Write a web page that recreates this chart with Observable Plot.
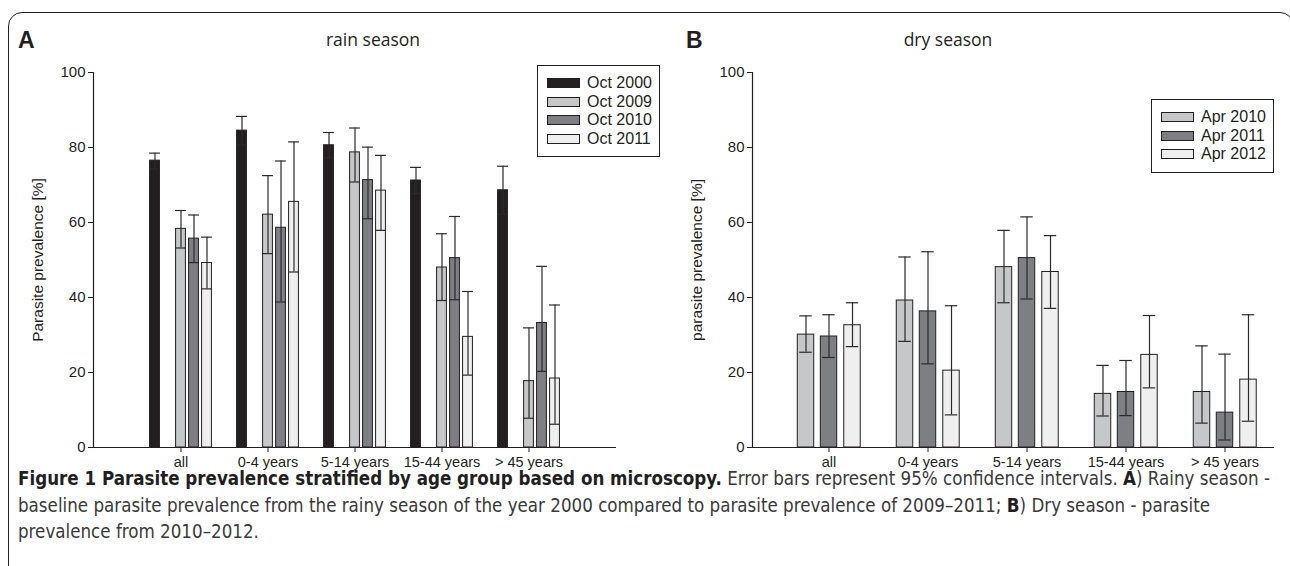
<!DOCTYPE html>
<html><head><meta charset="utf-8">
<script src="https://cdn.jsdelivr.net/npm/d3@7"></script>
<script src="https://cdn.jsdelivr.net/npm/@observablehq/plot@0.6"></script>
<style>
body{margin:0;background:#fff;}
#wrap{position:relative;width:1290px;height:566px;overflow:hidden;font-family:"Liberation Sans",Arial,sans-serif;color:#231f20;}
.abs{position:absolute;}
.border{left:8px;top:12px;width:1286px;height:640px;border:1.5px solid #231f20;border-radius:14px;box-sizing:border-box;}
.letter{font-weight:bold;font-size:23px;}
.title{font-family:"Open Sans",sans-serif;font-size:17.5px;transform:translateX(-50%);white-space:nowrap;}
.legend{border:1px solid #231f20;background:#fff;box-sizing:border-box;padding:8px 0 0 9px;}
.row{display:flex;align-items:center;height:18.5px;font-size:16px;white-space:nowrap;}
.sw{width:33px;height:10px;border:1px solid #231f20;margin-right:7px;box-sizing:border-box;}
.caption{left:18px;top:466px;font-family:"DejaVu Sans Condensed","Liberation Sans Narrow",sans-serif;font-size:18.6px;line-height:26.5px;white-space:nowrap;color:#3a3a3a;}
.caption b{color:#231f20;}
</style></head><body><div id="wrap"></div>
<script>
// ---------- data ----------
const groups = ["all", "0-4 years", "5-14 years", "15-44 years", "> 45 years"];
const yTicks = [0, 20, 40, 60, 80, 100];

// Panel A – rain season
const seriesA = ["Oct 2000", "Oct 2009", "Oct 2010", "Oct 2011"];
const oct2000 = [76.5, 84.5, 80.6, 71.2, 68.6];
const oct2000Lo = [74.3, 80.7, 77.2, 67.7, 62.2];
const oct2000Hi = [78.5, 88.3, 84.0, 74.7, 75.0];
const oct2009 = [58.3, 62.1, 78.7, 48.0, 17.7];
const oct2009Lo = [53.2, 51.7, 70.8, 39.2, 7.8];
const oct2009Hi = [63.2, 72.5, 85.2, 57.0, 31.9];
const oct2010 = [55.7, 58.6, 71.3, 50.5, 33.2];
const oct2010Lo = [49.3, 38.8, 61.0, 39.4, 20.3];
const oct2010Hi = [62.0, 76.4, 80.1, 61.6, 48.3];
const oct2011 = [49.2, 65.5, 68.5, 29.5, 18.4];
const oct2011Lo = [42.3, 46.8, 57.9, 19.3, 6.2];
const oct2011Hi = [56.1, 81.5, 77.9, 41.6, 38.0];

// Panel B – dry season
const seriesB = ["Apr 2010", "Apr 2011", "Apr 2012"];
const apr2010 = [30.1, 39.2, 48.1, 14.3, 14.8];
const apr2010Lo = [25.4, 28.3, 38.6, 8.4, 6.5];
const apr2010Hi = [35.1, 50.8, 57.9, 21.9, 27.1];
const apr2011 = [29.6, 36.3, 50.5, 14.8, 9.3];
const apr2011Lo = [24.0, 22.3, 39.6, 8.5, 2.0];
const apr2011Hi = [35.4, 52.2, 61.5, 23.2, 24.9];
const apr2012 = [32.6, 20.5, 46.8, 24.7, 18.1];
const apr2012Lo = [26.9, 8.7, 37.1, 15.9, 7.0];
const apr2012Hi = [38.6, 37.8, 56.5, 35.2, 35.4];

// ---------- build tables ----------
function table(vals, lo, hi) {
  return groups.map((g, i) => ({g, v: vals[i], lo: lo[i], hi: hi[i]}));
}
const dataA = [table(oct2000, oct2000Lo, oct2000Hi), table(oct2009, oct2009Lo, oct2009Hi),
               table(oct2010, oct2010Lo, oct2010Hi), table(oct2011, oct2011Lo, oct2011Hi)];
const dataB = [table(apr2010, apr2010Lo, apr2010Hi), table(apr2011, apr2011Lo, apr2011Hi),
               table(apr2012, apr2012Lo, apr2012Hi)];

// ---------- style ----------
const INK = "#231f20";
const fillsA = ["#231f20", "#c6c7c9", "#7e7f83", "#efefef"];
const fillsB = ["#c6c7c9", "#7e7f83", "#efefef"];

function panel({data, fills, offsets, barW, capW, left, width, marginLeft, marginRight, paddingOuter, align, label}) {
  const height = 480, marginTop = 72, marginBottom = 33;
  const bw = (width - marginLeft - marginRight) / (groups.length + 2 * paddingOuter);
  const marks = [];
  data.forEach((d, k) => {
    const o = offsets[k];
    marks.push(Plot.barY(d, {x: "g", y: "v", fill: fills[k], stroke: INK, strokeWidth: 1,
      insetLeft: bw / 2 + o - barW / 2, insetRight: bw / 2 - o - barW / 2}));
    marks.push(Plot.ruleX(d, {x: "g", y1: "lo", y2: "hi", dx: o, stroke: "#2a2a2a", strokeWidth: 1.2}));
    for (const key of ["lo", "hi"]) {
      marks.push(Plot.tickY(d, {x: "g", y: key, stroke: "#2a2a2a", strokeWidth: 1.2,
        insetLeft: bw / 2 + o - capW / 2, insetRight: bw / 2 - o - capW / 2}));
    }
  });
  const svg = Plot.plot({
    width, height, marginLeft, marginRight, marginTop, marginBottom,
    style: {fontFamily: "Liberation Sans, Arial, sans-serif", fontSize: "14.5px", color: INK, background: "transparent", overflow: "visible"},
    x: {type: "band", domain: groups, paddingInner: 0, paddingOuter, align},
    y: {domain: [0, 100]},
    marks: [
      ...marks,
      Plot.ruleY([0], {stroke: INK, strokeWidth: 1.2}),
      Plot.frame({anchor: "left", stroke: INK, strokeWidth: 1.2}),
      Plot.axisY({ticks: yTicks, tickSize: 5, tickPadding: 3, label: null, fontSize: 15}),
      Plot.axisX({tickSize: 5, tickPadding: 4, label: null, fontSize: 14.5}),
      Plot.text([label], {text: d => d, frameAnchor: "left", textAnchor: "middle", lineAnchor: "middle", rotate: -90, dx: -55, fontSize: 15.5, fill: INK})
    ]
  });
  svg.style.position = "absolute";
  svg.style.left = left + "px";
  svg.style.top = "0px";
  return svg;
}

const wrap = document.getElementById("wrap");
const border = document.createElement("div");
border.className = "abs border";
wrap.appendChild(border);

wrap.appendChild(panel({data: dataA, fills: fillsA, offsets: [-26, 0, 13, 26], barW: 10, capW: 11,
  left: 0, width: 680, marginLeft: 93, marginRight: 64, paddingOuter: 0.5, align: 0.5, label: "Parasite prevalence [%]"}));
wrap.appendChild(panel({data: dataB, fills: fillsB, offsets: [-23, 0, 23.5], barW: 17, capW: 13,
  left: 660, width: 630, marginLeft: 92, marginRight: 16, paddingOuter: 0.122, align: 1, label: "parasite prevalence [%]"}));

function html(cls, style, inner) {
  const el = document.createElement("div");
  el.className = "abs " + cls;
  Object.assign(el.style, style);
  el.innerHTML = inner;
  wrap.appendChild(el);
  return el;
}
html("letter", {left: "18px", top: "27px"}, "A");
html("letter", {left: "686px", top: "27px"}, "B");
html("title", {left: "373px", top: "27px"}, "rain season");
html("title", {left: "948px", top: "27px"}, "dry season");

function legend(names, fills, style) {
  const rows = names.map((n, i) => `<div class="row"><div class="sw" style="background:${fills[i]}"></div>${n}</div>`).join("");
  html("legend", style, rows);
}
legend(seriesA, fillsA, {left: "537px", top: "65px", width: "123px", height: "92px"});
legend(seriesB, fillsB, {left: "1151px", top: "99px", width: "123px", height: "74px"});

html("caption", {}, `<b>Figure 1 Parasite prevalence stratified by age group based on microscopy.</b> Error bars represent 95% confidence intervals. <b>A</b>) Rainy season -<br>baseline parasite prevalence from the rainy season of the year 2000 compared to parasite prevalence of 2009–2011; <b>B</b>) Dry season - parasite<br>prevalence from 2010–2012.`);
</script></body></html>
